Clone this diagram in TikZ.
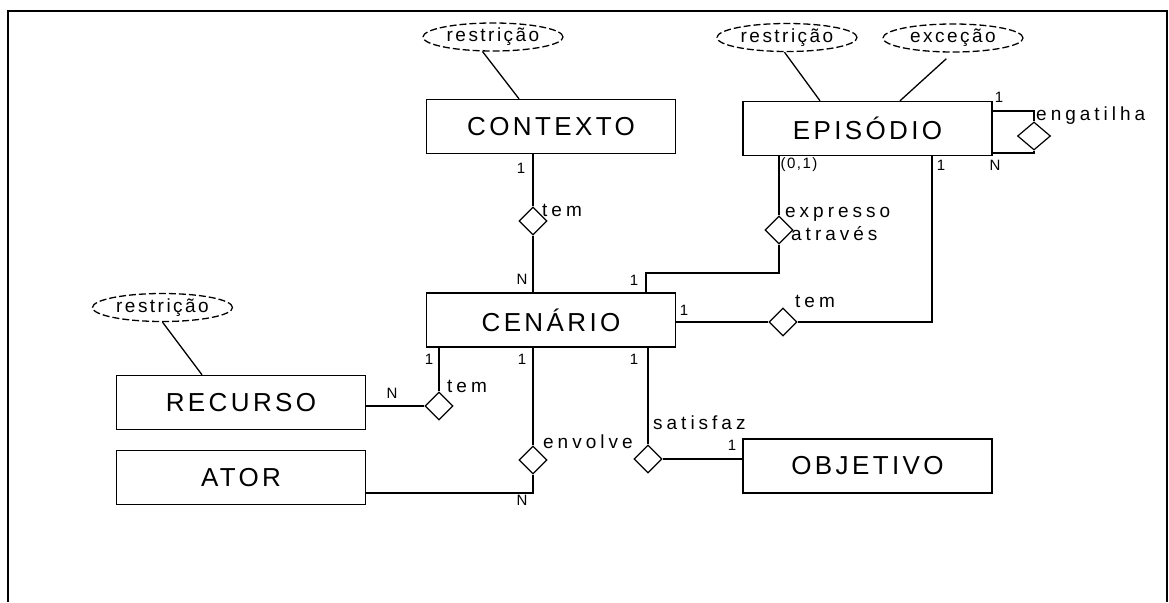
\documentclass[tikz,border=0pt]{standalone}
\usepackage{fontspec}
\setmainfont{Liberation Sans}
\newfontfamily\entfont[LetterSpace=13]{Liberation Sans}
\newfontfamily\relfont[LetterSpace=21]{Liberation Sans}
\newfontfamily\attfont[LetterSpace=13]{Liberation Sans}
\newfontfamily\numfont[LetterSpace=10]{Liberation Sans}
\usetikzlibrary{shapes.geometric}
\begin{document}
\begin{tikzpicture}[x=1pt,y=-1pt,
  entity/.style={draw,line width=1.4pt,minimum width=249pt,minimum height=54pt,
    inner sep=0pt,font=\entfont\fontsize{26}{30}\selectfont},
  relship/.style={draw,diamond,line width=1.2pt,inner sep=0pt,aspect=1,
    minimum width=28pt,minimum height=28pt},
  attrib/.style={draw,ellipse,line width=1.3pt,dash pattern=on 7pt off 3pt,
    minimum width=140pt,minimum height=28pt,inner sep=0pt,
    font=\attfont\fontsize{19}{22}\selectfont},
  link/.style={line width=1.3pt},
  rlabel/.style={inner sep=0pt,anchor=base west,font=\relfont\fontsize{19}{22}\selectfont},
  card/.style={inner sep=0pt,font=\numfont\fontsize{15}{17}\selectfont}]
\useasboundingbox (0,0) rectangle (1169,602);
% outer frame, open at the bottom
\draw[line width=2.2pt] (8,602) -- (8,11) -- (1167,11) -- (1167,602);

% entities
\node[entity] (ctx) at (551,126.5) {CONTEXTO};
\node[entity] (epi) at (867.5,128.5) {EPISÓDIO};
\node[entity] (cen) at (551,320) {CENÁRIO};
\node[entity] (rec) at (241,402.5) {RECURSO};
\node[entity] (ator) at (241,477.5) {ATOR};
\node[entity] (obj) at (867.5,466) {OBJETIVO};

% attributes
\node[attrib] (actx) at (493,37) {restrição};
\node[attrib] (aepi) at (787,37.5) {restrição};
\node[attrib] (aexc) at (953,38) {exceção};
\node[attrib] (arec) at (162.5,307.5) {restrição};
\draw[link] (actx.-126) -- (ctx.north -| 519,0);
\draw[link] (aepi.-100) -- (epi.north -| 820,0);
\draw[link,shorten <=9pt] (aexc.south) -- (epi.north -| 900,0);
\draw[link] (arec.south) -- (rec.north -| 202,0);

% relationships
\node[relship] (dctx) at (533,221) {};
\node[relship] (dexp) at (779,230) {};
\node[relship] (dtem) at (783,322) {};
\node[relship,minimum width=33pt] (deng) at (1034,136) {};
\node[relship] (drec) at (439,406) {};
\node[relship] (denv) at (533,460) {};
\node[relship] (dsat) at (648,459) {};

\coordinate (kexp) at (646,273);
\coordinate (ktem) at (932,322);
\coordinate (keng1) at (1034,111);
\coordinate (keng2) at (1034,153);
\coordinate (kenv) at (533,493);

\draw[link] (ctx.south -| dctx) -- (dctx.north);
\draw[link] (dctx.south) -- (cen.north -| dctx);
\draw[link] (epi.south -| dexp) -- (dexp.north);
\draw[link] (dexp.south) |- (kexp) -- (kexp |- cen.north);
\draw[link] (cen.east |- dtem) -- (dtem.west);
\draw[link] (dtem.east) -- (ktem) -- (ktem |- epi.south);
\draw[link] (keng1 -| epi.east) -- (keng1) -- (deng.north);
\draw[link] (deng.south) -- (keng2) -- (keng2 -| epi.east);
\draw[link] (cen.south -| drec) -- (drec.north);
\draw[link] (rec.east |- drec) -- (drec.west);
\draw[link] (cen.south -| denv) -- (denv.north);
\draw[link] (denv.south) -- (kenv) -- (kenv -| ator.east);
\draw[link] (cen.south -| dsat) -- (dsat.north);
\draw[link] (dsat.east) -- (obj.west |- dsat);

% relationship names
\node[rlabel] (ltem1) at (542,216) {tem};
\node[rlabel] (leng) at (1036,120) {engatilha};
\node[rlabel] (lexp1) at (785,217) {expresso};
\node[rlabel] (lexp2) at (791,240) {através};
\node[rlabel] (ltem2) at (795,307) {tem};
\node[rlabel] (ltem3) at (447,392) {tem};
\node[rlabel] (lenv) at (543,448) {envolve};
\node[rlabel] (lsat) at (653,429) {satisfaz};

% cardinalities
\node[card] (c1) at (521,168) {1};
\node[card] (c2) at (522,279) {N};
\node[card] (c3) at (999,97) {1};
\node[card] (c4) at (995,165) {N};
\node[card] (c5) at (799,165) {(0,1)};
\node[card] (c6) at (941,165) {1};
\node[card] (c7) at (634,280) {1};
\node[card] (c8) at (684,310) {1};
\node[card] (c9) at (429,359) {1};
\node[card] (c10) at (522,359) {1};
\node[card] (c11) at (634,359) {1};
\node[card] (c12) at (392,393) {N};
\node[card] (c13) at (522,500) {N};
\node[card] (c14) at (732,445) {1};
\end{tikzpicture}
\end{document}
